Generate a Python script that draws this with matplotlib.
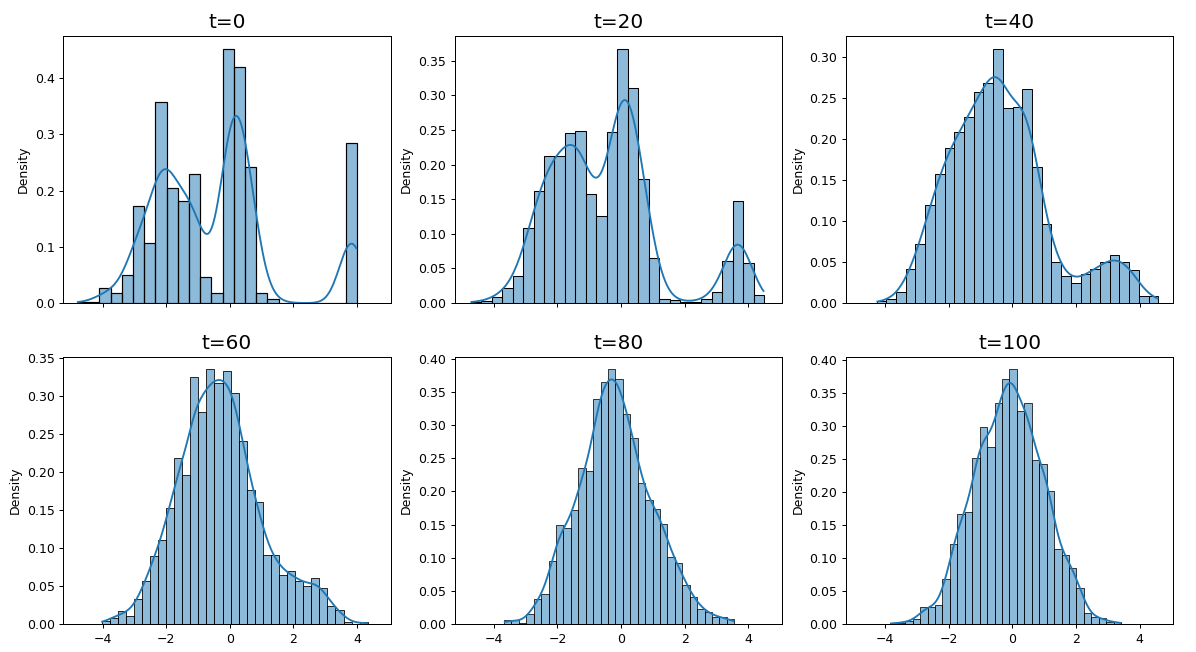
import numpy as np
import matplotlib.pyplot as plt
import seaborn as sns

# number of samples behind every snapshot
n_samples = 3000

titles = ['t=0', 't=20', 't=40', 't=60', 't=80', 't=100']

# (min, max) of the samples at each step
ranges = [(-4.80, 4.005), (-4.73, 4.50), (-4.27, 4.59),
          (-4.03, 4.34), (-3.68, 3.56), (-3.84, 3.42)]

# histogram densities
dens_t0 = [0.002, 0.002, 0.027, 0.018, 0.049, 0.173, 0.107, 0.359, 0.204, 0.182,
           0.230, 0.046, 0.018, 0.453, 0.421, 0.242, 0.018, 0.0065, 0, 0,
           0, 0, 0, 0, 0.285]
dens_t20 = [0.0025, 0.003, 0.009, 0.022, 0.038, 0.108, 0.162, 0.213, 0.213, 0.246,
            0.249, 0.158, 0.126, 0.248, 0.368, 0.311, 0.180, 0.065, 0.006, 0.005,
            0.001, 0.002, 0.006, 0.016, 0.061, 0.148, 0.058, 0.012]
dens_t40 = [0.002, 0.004, 0.013, 0.042, 0.072, 0.120, 0.158, 0.190, 0.209, 0.227,
            0.257, 0.269, 0.311, 0.238, 0.240, 0.262, 0.166, 0.097, 0.050, 0.033,
            0.024, 0.036, 0.042, 0.050, 0.059, 0.050, 0.040, 0.009, 0.009]
dens_t60 = [0.004, 0.0076, 0.017, 0.011, 0.033, 0.056, 0.091, 0.112, 0.154, 0.221,
            0.197, 0.327, 0.281, 0.338, 0.320, 0.335, 0.306, 0.243, 0.177, 0.161,
            0.092, 0.092, 0.065, 0.069, 0.057, 0.050, 0.060, 0.047, 0.024, 0.019,
            0.002, 0, 0.002]
dens_t80 = [0.005, 0.005, 0.002, 0.015, 0.037, 0.046, 0.096, 0.150, 0.144, 0.171,
            0.236, 0.231, 0.340, 0.365, 0.384, 0.370, 0.317, 0.281, 0.212, 0.187,
            0.172, 0.152, 0.102, 0.092, 0.059, 0.041, 0.023, 0.019, 0.010, 0.010,
            0.007]
dens_t100 = [0.002, 0.002, 0.004, 0.007, 0.025, 0.025, 0.029, 0.069, 0.122, 0.168,
             0.171, 0.253, 0.300, 0.271, 0.338, 0.375, 0.388, 0.324, 0.337, 0.250,
             0.245, 0.203, 0.114, 0.105, 0.086, 0.055, 0.017, 0.010, 0.008, 0.003,
             0.003]

all_dens = [dens_t0, dens_t20, dens_t40, dens_t60, dens_t80, dens_t100]

fig, axes = plt.subplots(2, 3, sharex=True, figsize=(1196 / 90, 652 / 90), dpi=90)
fig.subplots_adjust(left=0.053, right=0.981, top=0.945, bottom=0.043,
                    wspace=0.196, hspace=0.201)

for ax, title, (lo, hi), dens in zip(axes.flat, titles, ranges, all_dens):
    dens = np.array(dens)
    edges = np.linspace(lo, hi, len(dens) + 1)
    width = edges[1] - edges[0]
    centers = (edges[:-1] + edges[1:]) / 2
    # rebuild the samples from the bar counts
    counts = np.round(dens * width * n_samples).astype(int)
    samples = np.repeat(centers, counts)
    sns.histplot(x=samples, bins=edges, stat='density', kde=True, ax=ax,
                 kde_kws={'cut': 0.4})
    ax.set_title(title, fontsize=16)

axes[0, 0].set_xlim(-5.23, 5.06)

plt.savefig('out.png', dpi=90)
